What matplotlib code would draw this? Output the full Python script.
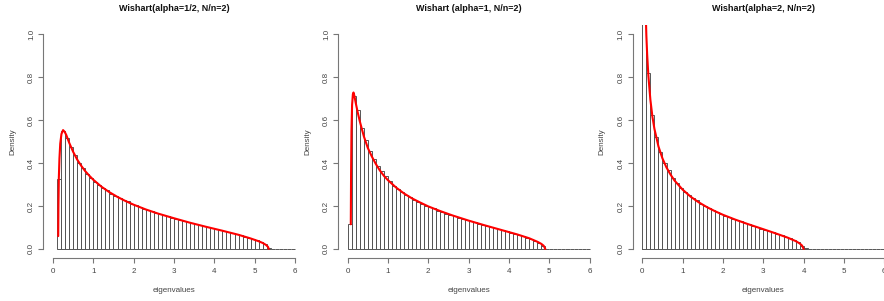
import numpy as np
import matplotlib
matplotlib.use("Agg")
import matplotlib.pyplot as plt

plt.rcParams['font.family'] = ['Liberation Sans', 'DejaVu Sans']

titles = ["Wishart(alpha=1/2, N/n=2)", "Wishart (alpha=1, N/n=2)", "Wishart(alpha=2, N/n=2)"]
bin_width = 0.1
first_break = [0.1, 0.0, 0.0]

# histogram densities per bin (bins of 0.1 starting at first_break)
hist1 = [0.325, 0.55, 0.515, 0.475, 0.435, 0.40, 0.375, 0.351, 0.331, 0.313,
         0.298, 0.283, 0.274, 0.258, 0.248, 0.237, 0.228, 0.222, 0.210, 0.203,
         0.195, 0.188, 0.181, 0.178, 0.168, 0.162, 0.157, 0.153, 0.145, 0.140,
         0.135, 0.130, 0.125, 0.120, 0.115, 0.111, 0.106, 0.101, 0.097, 0.092,
         0.087, 0.083, 0.078, 0.073, 0.068, 0.063, 0.058, 0.052, 0.046, 0.040,
         0.032, 0.021, 0.005, 0, 0, 0, 0, 0, 0]
hist2 = [0.118, 0.71, 0.648, 0.563, 0.509, 0.454, 0.419, 0.385, 0.362, 0.338,
         0.315, 0.293, 0.278, 0.265, 0.252, 0.241, 0.230, 0.220, 0.211, 0.202,
         0.194, 0.190, 0.179, 0.172, 0.165, 0.159, 0.155, 0.146, 0.140, 0.135,
         0.129, 0.124, 0.118, 0.113, 0.108, 0.102, 0.097, 0.092, 0.087, 0.082,
         0.076, 0.071, 0.065, 0.059, 0.053, 0.046, 0.039, 0.030, 0.012,
         0, 0, 0, 0, 0, 0, 0, 0, 0, 0, 0]
hist3 = [2.0, 0.82, 0.625, 0.519, 0.45, 0.40, 0.366, 0.331, 0.308, 0.285,
         0.267, 0.251, 0.236, 0.228, 0.211, 0.200, 0.190, 0.181, 0.172, 0.163,
         0.155, 0.148, 0.140, 0.133, 0.128, 0.120, 0.114, 0.107, 0.101, 0.095,
         0.089, 0.083, 0.077, 0.070, 0.064, 0.057, 0.049, 0.041, 0.031, 0.012,
         0.003, 0, 0, 0, 0, 0, 0, 0, 0, 0, 0, 0, 0, 0, 0, 0, 0, 0, 0, 0]

# limiting density curves
curve1_x = [0.13, 0.135, 0.145, 0.16, 0.18, 0.21, 0.25, 0.29, 0.33, 0.4,
            0.5, 0.6, 0.7, 0.8, 0.9, 1.0, 1.2, 1.4, 1.6, 1.8, 2.0,
            2.3, 2.6, 3.0, 3.4, 3.8, 4.2, 4.6, 4.9, 5.1, 5.2, 5.28, 5.33, 5.35]
curve1_y = [0.06, 0.2, 0.33, 0.42, 0.49, 0.535, 0.553, 0.545, 0.53, 0.495,
            0.452, 0.416, 0.387, 0.362, 0.341, 0.322, 0.290, 0.264, 0.242, 0.223, 0.206,
            0.184, 0.165, 0.143, 0.122, 0.103, 0.085, 0.066, 0.049, 0.036, 0.028, 0.019, 0.01, 0.0]
curve2_x = [0.078, 0.085, 0.095, 0.11, 0.13, 0.145, 0.17, 0.2, 0.25, 0.3,
            0.35, 0.4, 0.5, 0.6, 0.7, 0.8, 0.9, 1.0, 1.2, 1.4, 1.6, 1.8, 2.0,
            2.3, 2.6, 3.0, 3.4, 3.8, 4.2, 4.5, 4.7, 4.8, 4.86, 4.9]
curve2_y = [0.115, 0.35, 0.55, 0.67, 0.72, 0.728, 0.71, 0.68, 0.635, 0.595,
            0.56, 0.525, 0.47, 0.43, 0.395, 0.365, 0.34, 0.32, 0.286, 0.258, 0.235, 0.216, 0.198,
            0.176, 0.156, 0.132, 0.110, 0.089, 0.068, 0.05, 0.034, 0.024, 0.015, 0.0]
curve3_x = [0.07, 0.1, 0.12, 0.15, 0.2, 0.25, 0.3, 0.4, 0.5, 0.6,
            0.7, 0.8, 1.0, 1.2, 1.4, 1.6, 1.8, 2.0,
            2.3, 2.6, 3.0, 3.3, 3.6, 3.8, 3.9, 3.96, 4.0]
curve3_y = [1.193, 0.994, 0.905, 0.806, 0.694, 0.616, 0.559, 0.477, 0.421, 0.379,
            0.346, 0.318, 0.276, 0.243, 0.217, 0.195, 0.176, 0.159,
            0.137, 0.117, 0.092, 0.073, 0.053, 0.037, 0.026, 0.016, 0.0]

hists = [hist1, hist2, hist3]
curves = [(curve1_x, curve1_y), (curve2_x, curve2_y), (curve3_x, curve3_y)]

W, H = 884, 301
fig = plt.figure(figsize=(W / 100, H / 100), dpi=100)

axis_col = '#777777'
text_col = '#444444'
for i in range(3):
    left = i * W / 3 + 43.3
    ax = fig.add_axes([left / W, 43.4 / H, 261.4 / W, 232.2 / H])
    h = hists[i]
    edges = first_break[i] + bin_width * np.arange(len(h))
    ax.bar(edges, h, width=bin_width, align='edge', fill=False,
           edgecolor='#555555', linewidth=0.7)
    cx, cy = curves[i]
    ax.plot(cx, cy, color='#ff0000', linewidth=1.5, solid_capstyle='round')

    ax.set_xlim(-0.24, 6.24)
    ax.set_ylim(-0.04, 1.04)
    for s in ['top', 'right']:
        ax.spines[s].set_visible(False)
    ax.spines['left'].set_bounds(0, 1)
    ax.spines['bottom'].set_bounds(0, 6)
    for s in ['left', 'bottom']:
        ax.spines[s].set_color(axis_col)
        ax.spines[s].set_linewidth(0.8)
    ax.set_xticks(range(7))
    ax.set_yticks([0, 0.2, 0.4, 0.6, 0.8, 1.0])
    ax.set_yticklabels(["0.0", "0.2", "0.4", "0.6", "0.8", "1.0"],
                       rotation=90, va='center')
    ax.tick_params(length=3.6, width=0.8, color=axis_col, labelsize=5.8,
                   labelcolor=text_col)
    ax.tick_params(axis='x', pad=3.6)
    ax.tick_params(axis='y', pad=2.2)

    ax.set_title(titles[i], fontsize=6.5, fontweight='bold', color='#111111', pad=0,
                 y=(301 - 8 - 43.4) / 232.2, va='center')
    ax.set_xlabel("eigenvalues", fontsize=5.8, color=text_col)
    ax.xaxis.label.set_va('center')
    ax.xaxis.set_label_coords(0.5, -33 / 232.2)
    ax.set_ylabel("Density", fontsize=5.8, color=text_col)
    ax.yaxis.label.set_va('center')
    ax.yaxis.set_label_coords(-30.3 / 261.4, 0.5)

fig.savefig("out.png", dpi=100)
